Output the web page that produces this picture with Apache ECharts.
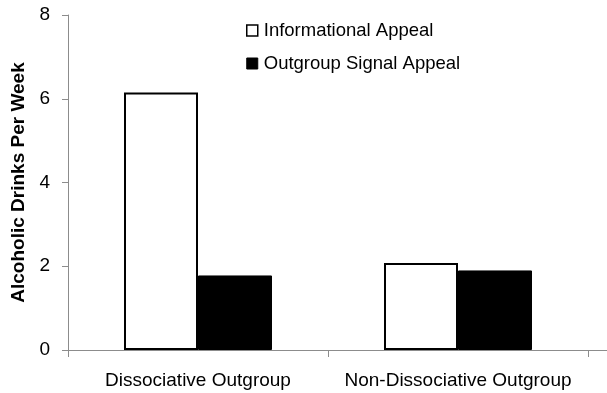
<!DOCTYPE html>
<html>
<head>
<meta charset="utf-8">
<title>Alcoholic Drinks Per Week</title>
<script src="https://cdn.jsdelivr.net/npm/echarts@6/dist/echarts.min.js"></script>
<style>
  html, body { margin: 0; padding: 0; background: #fff; }
  #main { width: 607px; height: 393px; }
</style>
</head>
<body>
<div id="main"></div>
<script>
// data
var categories = ['Dissociative Outgroup', 'Non-Dissociative Outgroup'];
var informational = [6.15, 2.08];
var outgroupSignal = [1.78, 1.9];
var seriesNames = ['Informational Appeal', 'Outgroup Signal Appeal'];

var font = 'Liberation Sans, Arial, sans-serif';
var axisGray = '#8c8c8c';

var myChart = echarts.init(document.getElementById('main'));
myChart.setOption({
  animation: false,
  grid: { left: 68, right: 19, top: 15, bottom: 43 },
  legend: {
    orient: 'vertical',
    left: 241,
    top: 16,
    itemWidth: 11,
    itemHeight: 11,
    itemGap: 14,
    icon: 'rect',
    textStyle: { fontFamily: font, fontSize: 18.5, color: '#000', padding: [0, 0, 0, 1] },
    data: [
      { name: seriesNames[0], itemStyle: { color: '#fff', borderColor: '#000', borderWidth: 1.5 } },
      { name: seriesNames[1], itemStyle: { color: '#000', borderColor: '#000', borderWidth: 1 } }
    ]
  },
  xAxis: {
    type: 'category',
    data: categories,
    axisLine: { show: true, lineStyle: { color: axisGray, width: 1 } },
    axisTick: { show: true, length: 7, lineStyle: { color: axisGray } },
    axisLabel: { interval: 0, fontFamily: font, fontSize: 19, color: '#000', margin: 21 }
  },
  yAxis: {
    type: 'value',
    min: 0,
    max: 8,
    interval: 2,
    name: 'Alcoholic Drinks Per Week',
    nameLocation: 'middle',
    nameGap: 38,
    nameTextStyle: { fontFamily: font, fontSize: 19, fontWeight: 'bold', color: '#000' },
    splitLine: { show: false },
    axisLine: { show: true, lineStyle: { color: axisGray, width: 1 } },
    axisTick: { show: true, length: 6, lineStyle: { color: axisGray } },
    axisLabel: { fontFamily: font, fontSize: 19, color: '#000', margin: 18 }
  },
  series: [
    {
      name: seriesNames[0],
      type: 'bar',
      data: informational,
      barWidth: 74,
      barGap: '0%',
      itemStyle: { color: '#fff', borderColor: '#000', borderWidth: 2 }
    },
    {
      name: seriesNames[1],
      type: 'bar',
      data: outgroupSignal,
      barWidth: 74,
      barGap: '0%',
      itemStyle: { color: '#000', borderColor: '#000', borderWidth: 1 }
    }
  ],
  graphic: [
    // the baseline runs on past the last category in the original
    { type: 'line', shape: { x1: 588, y1: 350.5, x2: 607, y2: 350.5 }, style: { stroke: axisGray, lineWidth: 1 } }
  ]
});
</script>
</body>
</html>
